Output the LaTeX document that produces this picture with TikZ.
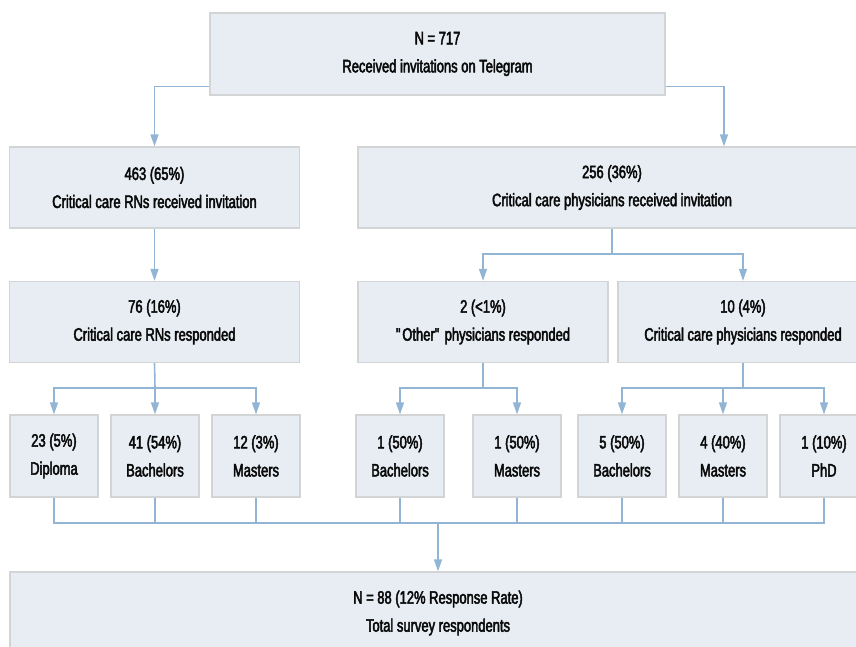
\documentclass[tikz,border=0pt]{standalone}
\usepackage{fontspec}
\setmainfont{Liberation Sans}[FakeStretch=0.72,FakeBold=2.6]
\usetikzlibrary{arrows.meta}
\definecolor{boxfill}{HTML}{E7EDF3}
\definecolor{boxline}{HTML}{D2D4D6}
\definecolor{conn}{HTML}{93B5D5}
\definecolor{txt}{HTML}{0A0A0A}
\begin{document}
\begin{tikzpicture}[x=1pt,y=-1pt,
  box/.style={draw=boxline, line width=1.3pt, fill=boxfill, align=center, inner sep=0pt,
    text=txt, font=\fontsize{18}{28}\selectfont},
  small/.style={box, minimum width=88pt, minimum height=82pt},
  wide/.style={box, minimum height=81pt},
  link/.style={draw=conn, line width=1.6pt},
  arr/.style={link, -{Triangle[width=8pt,length=12pt]}}
]
\useasboundingbox (0,0) rectangle (856,646);
\clip (0,0) rectangle (856,646);

% nodes
\node[wide, minimum width=455pt, minimum height=82pt] (top) at (437.5,54) {N = 717\\Received invitations on Telegram};
\node[wide, minimum width=290pt] (rn) at (154.5,187.5) {463 (65\%)\\Critical care RNs received invitation};
\node[wide, minimum width=508pt] (phys) at (612,187.5) {256 (36\%)\\Critical care physicians received invitation};
\node[wide, minimum width=290pt] (rnresp) at (154.5,322) {76 (16\%)\\Critical care RNs responded};
\node[wide, minimum width=250pt] (other) at (483,322) {2 (<1\%)\\\textquotedbl{}Other\textquotedbl{} physicians responded};
\node[wide, minimum width=250pt] (ccresp) at (743,322) {10 (4\%)\\Critical care physicians responded};

\node[small] (dip) at (54,456) {23 (5\%)\\Diploma};
\node[small] (bach) at (155,456) {41 (54\%)\\Bachelors};
\node[small] (mast) at (256,456) {12 (3\%)\\Masters};
\node[small] (ob) at (400,456) {1 (50\%)\\Bachelors};
\node[small] (om) at (517,456) {1 (50\%)\\Masters};
\node[small] (cb) at (622,456) {5 (50\%)\\Bachelors};
\node[small] (cm) at (723,456) {4 (40\%)\\Masters};
\node[small] (cp) at (824,456) {1 (10\%)\\PhD};

\node[box, minimum width=856pt, minimum height=82pt] (total) at (438,613) {N = 88 (12\% Response Rate)\\Total survey respondents};

% junction coordinates
\coordinate (jp) at (612,254);
\coordinate (jrn) at (155,388);
\coordinate (jo) at (483,388);
\coordinate (jc) at (743,388);
\coordinate (jb) at (438,523);

% connectors
\draw[arr] ([yshift=9pt]top.south west) -| (rn.north);
\draw[arr] ([yshift=9pt]top.south east) -| ([xshift=112pt]phys.north);
\draw[arr] (rn.south) -- (rnresp.north);
\draw[link] (phys.south) -- (jp);
\draw[arr] (jp) -| (other.north);
\draw[arr] (jp) -| (ccresp.north);

\draw[link] (rnresp.south) -- (jrn);
\draw[arr] (jrn) -| (dip.north);
\draw[arr] (jrn) -- (bach.north);
\draw[arr] (jrn) -| (mast.north);

\draw[link] (other.south) -- (jo);
\draw[arr] (jo) -| (ob.north);
\draw[arr] (jo) -| (om.north);

\draw[link] (ccresp.south) -- (jc);
\draw[arr] (jc) -| (cb.north);
\draw[arr] (jc) -| (cm.north);
\draw[arr] (jc) -| (cp.north);

\draw[link] (dip.south) |- (jb);
\draw[link] (cp.south) |- (jb);
\foreach \n in {bach,mast,ob,om,cb,cm}{
  \draw[link] (\n.south) -- (\n.south |- jb);
}
\draw[arr] (jb) -- (total.north);
\end{tikzpicture}
\end{document}
